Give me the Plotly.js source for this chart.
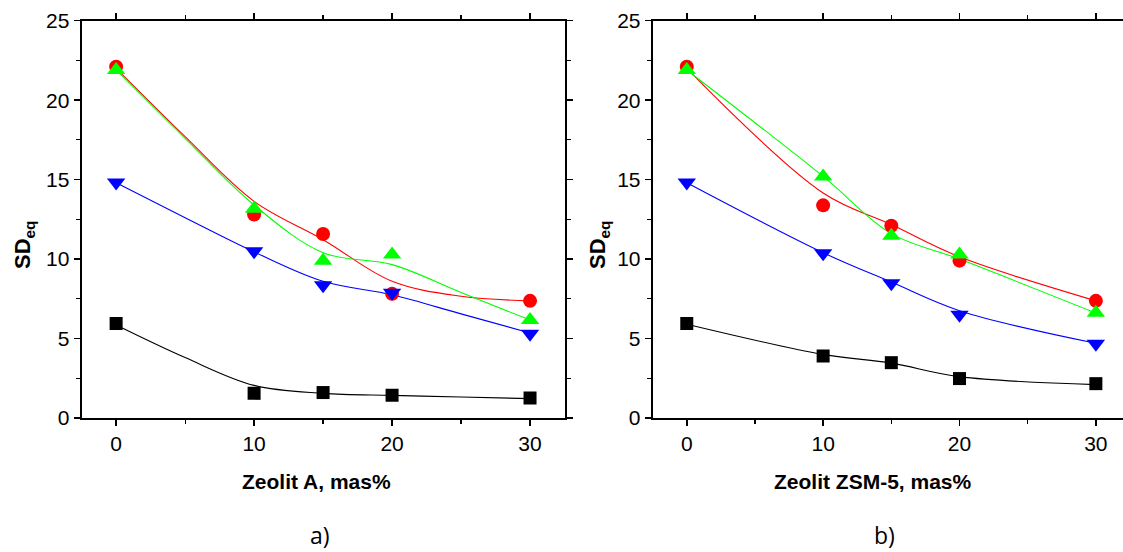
<!DOCTYPE html>
<html>
<head>
<meta charset="utf-8">
<script src="https://cdn.plot.ly/plotly-3.0.1.min.js"></script>
<style>html,body{margin:0;padding:0;background:#fff;} #chart{width:1123px;height:552px;}</style>
</head>
<body>
<div id="chart"></div>
<script>
// x positions (mass %)
const xPts = [0, 10, 15, 20, 30];

// Panel a) Zeolit A - measured points
const aBlack = [5.95, 1.55, 1.6, 1.43, 1.25];
const aRed   = [22.1, 12.8, 11.58, 7.81, 7.37];
const aGreen = [21.9, 13.17, 9.9, 10.28, 6.16];
const aBlue  = [14.82, 10.49, 8.35, 7.88, 5.3];

// Panel a) fitted curves (read from picture)
const aFitX     = [0, 5, 10, 15, 20, 25, 30];
const aBlackFit = [5.85, 3.8, 2.05, 1.55, 1.42, 1.32, 1.22];
const aRedFit   = [22.0, 17.7, 13.63, 11.22, 8.6, 7.66, 7.37];
const aGreenFit = [21.9, 17.6, 13.4, 10.4, 9.65, 7.9, 6.16];
const aBlueFit  = [14.8, 12.6, 10.45, 8.6, 7.75, 6.55, 5.35];

// Panel b) Zeolit ZSM-5 - measured points
const bBlack = [5.95, 3.9, 3.48, 2.48, 2.16];
const bRed   = [22.1, 13.38, 12.1, 9.9, 7.37];
const bGreen = [21.9, 15.2, 11.47, 10.28, 6.62];
const bBlue  = [14.82, 10.36, 8.48, 6.5, 4.67];

// Panel b) fitted curves
const bFitX     = [0, 10, 15, 20, 30];
const bBlackFit = [5.9, 4.0, 3.45, 2.6, 2.1];
const bRedFit   = [22.0, 14.16, 12.17, 10.14, 7.37];
const bGreenFit = [21.9, 15.2, 11.6, 10.0, 6.6];
const bBlueFit  = [14.8, 10.4, 8.55, 6.75, 4.7];

const xTickVals = [0, 10, 20, 30];
const yTickVals = [0, 5, 10, 15, 20, 25];

const series = [
  {color: '#000000', symbol: 'square', size: 13},
  {color: '#ff0000', symbol: 'circle', size: 14},
  {color: '#00ff00', symbol: 'triangle-up', size: 16},
  {color: '#0000ff', symbol: 'triangle-down', size: 16}
];

const traces = [];
function addPanel(fitX, fits, pts, xa, ya) {
  fits.forEach((f, i) => {
    traces.push({x: fitX, y: f, xaxis: xa, yaxis: ya, mode: 'lines',
      line: {color: series[i].color, width: 1.1, shape: 'spline', smoothing: 1}, hoverinfo: 'skip'});
  });
  pts.forEach((p, i) => {
    traces.push({x: xPts, y: p, xaxis: xa, yaxis: ya, mode: 'markers',
      marker: {color: series[i].color, symbol: series[i].symbol, size: series[i].size, line: {width: 0}}});
  });
}
addPanel(aFitX, [aBlackFit, aRedFit, aGreenFit, aBlueFit], [aBlack, aRed, aGreen, aBlue], 'x', 'y');
addPanel(bFitX, [bBlackFit, bRedFit, bGreenFit, bBlueFit], [bBlack, bRed, bGreen, bBlue], 'x2', 'y2');

const tickFont = {family: 'Liberation Sans, Arial, sans-serif', size: 21, color: '#000'};
function xAxis(domain, range, anchor) {
  return {domain: domain, range: range, anchor: anchor, tickvals: xTickVals, ticktext: xTickVals.map(String),
    ticks: 'outside', ticklen: 6, tickwidth: 1.5, tickcolor: '#000',
    minor: {dtick: 5, tick0: 0, ticks: 'outside', ticklen: 4, tickwidth: 1.2, tickcolor: '#000', showgrid: false},
    showline: true, linewidth: 2, linecolor: '#000', mirror: 'allticks', showgrid: false, zeroline: false,
    tickfont: tickFont, fixedrange: true};
}
function yAxis(anchor, mirror) {
  return {domain: [0.2428, 0.9625], range: [0, 25], anchor: anchor, tickvals: yTickVals, ticktext: yTickVals.map(String),
    ticks: 'outside', ticklen: 6, tickwidth: 1.5, tickcolor: '#000',
    minor: {dtick: 2.5, tick0: 0, ticks: 'outside', ticklen: 4, tickwidth: 1.2, tickcolor: '#000', showgrid: false},
    showline: true, linewidth: 2, linecolor: '#000', mirror: mirror, showgrid: false, zeroline: false,
    tickfont: tickFont, fixedrange: true};
}

const titleFont = {family: 'Liberation Sans, Arial, sans-serif', size: 21, color: '#000'};
const capFont = {family: 'Open Sans, Noto Sans, sans-serif', size: 23, color: '#000'};
const sdFont = {family: 'Liberation Sans, Arial, sans-serif', size: 22, color: '#000'};

const layout = {
  width: 1123, height: 552,
  margin: {l: 0, r: 0, t: 0, b: 0},
  paper_bgcolor: '#fff', plot_bgcolor: '#fff',
  showlegend: false,
  xaxis: xAxis([0.0727, 0.5027], [-2.5, 32.5], 'y'),
  yaxis: yAxis('x', 'allticks'),
  xaxis2: xAxis([0.5812, 1.0], [-2.5, 31.99], 'y2'),
  yaxis2: yAxis('x2', false),
  annotations: [
    {text: '<b>Zeolit A, mas%</b>', xref: 'paper', yref: 'paper', x: 316/1123, y: 1 - 481/552, xanchor: 'center', yanchor: 'middle', showarrow: false, font: titleFont},
    {text: '<b>Zeolit ZSM-5, mas%</b>', xref: 'paper', yref: 'paper', x: 873/1123, y: 1 - 481/552, xanchor: 'center', yanchor: 'middle', showarrow: false, font: titleFont},
    {text: '<b>SD<sub>eq</sub></b>', xref: 'paper', yref: 'paper', x: 24/1123, y: 1 - 245/552, xanchor: 'center', yanchor: 'middle', textangle: -90, showarrow: false, font: sdFont},
    {text: '<b>SD<sub>eq</sub></b>', xref: 'paper', yref: 'paper', x: 599/1123, y: 1 - 245/552, xanchor: 'center', yanchor: 'middle', textangle: -90, showarrow: false, font: sdFont},
    {text: 'a)', xref: 'paper', yref: 'paper', x: 320/1123, y: 1 - 535/552, xanchor: 'center', yanchor: 'middle', showarrow: false, font: capFont},
    {text: 'b)', xref: 'paper', yref: 'paper', x: 884/1123, y: 1 - 535/552, xanchor: 'center', yanchor: 'middle', showarrow: false, font: capFont}
  ]
};

Plotly.newPlot('chart', traces, layout, {displayModeBar: false, staticPlot: true});
</script>
</body>
</html>
